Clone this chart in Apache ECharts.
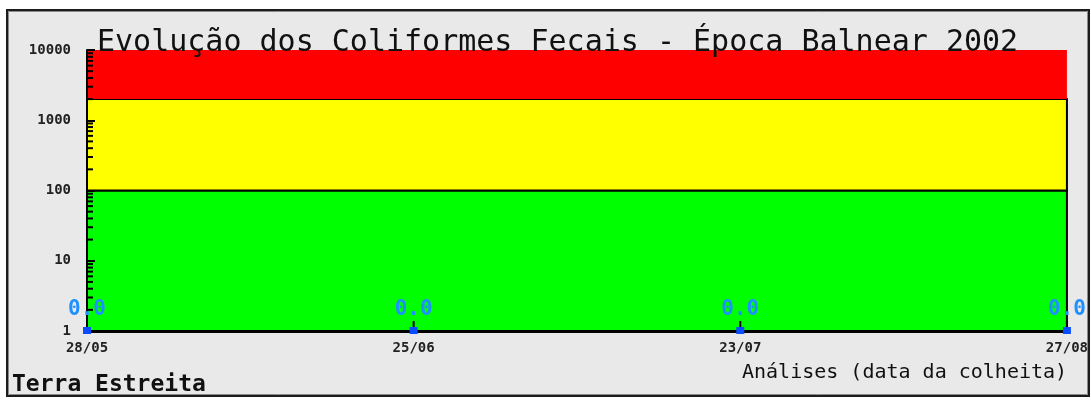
<!DOCTYPE html>
<html>
<head>
<meta charset="utf-8">
<script src="https://cdn.jsdelivr.net/npm/echarts@6/dist/echarts.min.js"></script>
<style>
  html, body { margin: 0; padding: 0; background: #ffffff; }
  #chart { width: 1091px; height: 400px; }
</style>
</head>
<body>
<div id="chart"></div>
<script>
// Sampling dates (data da colheita) and fecal coliform counts
const dates = ['28/05', '25/06', '23/07', '27/08'];
const coliformes = [0.0, 0.0, 0.0, 0.0];

// Quality bands (UFC/100 ml)
const bandGreen = [1, 100];
const bandYellow = [100, 2000];
const bandRed = [2000, 10000];

// Log axis range and minor tick values
const yMin = 1;
const yMax = 10000;
const minorTickValues = [];
for (let d = 1; d < yMax; d *= 10) {
  for (let m = 2; m <= 9; m++) minorTickValues.push(m * d);
}

const mono = '"DejaVu Sans Mono", "Liberation Mono", monospace';

const chart = echarts.init(document.getElementById('chart'), null, { renderer: 'canvas' });

chart.setOption({
  animation: false,
  backgroundColor: '#ffffff',
  graphic: [
    {
      type: 'rect', z: -10,
      shape: { x: 7, y: 10, width: 1082, height: 386 },
      style: { fill: '#e9e9e9', stroke: '#1c1c1c', lineWidth: 2 }
    },
    {
      type: 'rect', z: -9,
      shape: { x: 8.5, y: 11.5, width: 1079, height: 383 },
      style: { fill: null, stroke: '#8a8a8a', lineWidth: 1 }
    },
    {
      type: 'text', z: 50,
      x: 97, y: 43,
      style: {
        text: 'Evolução dos Coliformes Fecais - Época Balnear 2002',
        font: 'normal 30px ' + mono,
        fill: '#111111',
        verticalAlign: 'middle'
      }
    },
    {
      type: 'text', z: 50,
      x: 742, y: 373,
      style: {
        text: 'Análises (data da colheita)',
        font: 'normal 20px ' + mono,
        fill: '#111111',
        verticalAlign: 'middle'
      }
    },
    {
      type: 'text', z: 50,
      x: 12, y: 385,
      style: {
        text: 'Terra Estreita',
        font: 'bold 23px ' + mono,
        fill: '#111111',
        verticalAlign: 'middle'
      }
    }
  ],
  grid: { left: 87, top: 50, right: 23, bottom: 69, containLabel: false },
  xAxis: {
    type: 'category',
    data: dates,
    boundaryGap: false,
    z: 10,
    axisLine: { show: true, lineStyle: { color: '#000000', width: 3 } },
    axisTick: { show: false },
    axisLabel: {
      margin: 10,
      fontFamily: mono, fontWeight: 'bold', fontSize: 14, color: '#222222',
      showMinLabel: true, showMaxLabel: true
    },
    splitLine: { show: false }
  },
  yAxis: {
    type: 'log',
    logBase: 10,
    min: yMin,
    max: yMax,
    z: 10,
    axisLine: { show: true, lineStyle: { color: '#000000', width: 2 } },
    axisTick: { show: true, inside: true, length: 8, lineStyle: { color: '#000000', width: 2 } },
    axisLabel: {
      margin: 16,
      fontFamily: mono, fontWeight: 'bold', fontSize: 14, color: '#222222',
      formatter: function (v) { return String(Math.round(v)); }
    },
    splitLine: { show: false }
  },
  series: [
    {
      // quality bands behind the data
      type: 'line',
      data: [],
      silent: true,
      z: 1,
      markArea: {
        silent: true,
        data: [
          [{ yAxis: bandGreen[0], itemStyle: { color: '#00ff00', borderColor: '#000000', borderWidth: 2 } }, { yAxis: bandGreen[1] }],
          [{ yAxis: bandYellow[0], itemStyle: { color: '#ffff00', borderColor: '#000000', borderWidth: 2 } }, { yAxis: bandYellow[1] }],
          [{ yAxis: bandRed[0], itemStyle: { color: '#ff0000', borderWidth: 0 } }, { yAxis: bandRed[1] }]
        ]
      }
    },
    {
      // minor ticks of the log axis (2..9 of each decade)
      type: 'custom',
      silent: true,
      clip: false,
      z: 20,
      data: minorTickValues.map(v => [0, v]),
      encode: { x: 0, y: 1 },
      renderItem: function (params, api) {
        const p = api.coord([0, api.value(1)]);
        return {
          type: 'line',
          shape: { x1: p[0], y1: p[1], x2: p[0] + 6, y2: p[1] },
          style: { stroke: '#000000', lineWidth: 2 }
        };
      }
    },
    {
      // sample values: marker at the value (clamped to the axis floor), stem and value label
      type: 'custom',
      clip: false,
      z: 30,
      data: coliformes.map((v, i) => [i, v]),
      encode: { x: 0, y: 1 },
      renderItem: function (params, api) {
        const v = api.value(1);
        const p = api.coord([api.value(0), Math.max(v, yMin)]);
        return {
          type: 'group',
          children: [
            {
              type: 'line',
              shape: { x1: p[0], y1: p[1], x2: p[0], y2: p[1] - 10 },
              style: { stroke: '#000000', lineWidth: 2 }
            },
            {
              type: 'rect',
              shape: { x: p[0] - 4, y: p[1] - 4, width: 8, height: 7 },
              style: { fill: '#0a4cff' }
            },
            {
              type: 'text',
              x: p[0], y: p[1] - 21,
              style: {
                text: v.toFixed(1),
                font: 'bold 21px ' + mono,
                fill: '#1e90ff',
                align: 'center',
                verticalAlign: 'middle'
              }
            }
          ]
        };
      }
    }
  ]
});
</script>
</body>
</html>
